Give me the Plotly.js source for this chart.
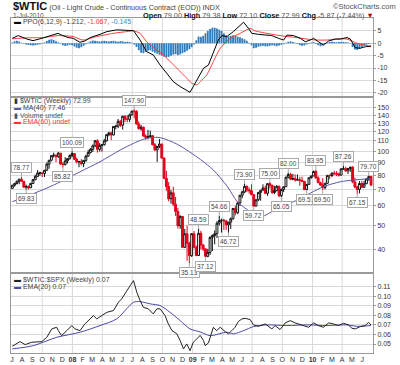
<!DOCTYPE html>
<html><head><meta charset="utf-8">
<script src="https://cdn.plot.ly/plotly-3.0.1.min.js"></script>
<style>html,body{margin:0;padding:0;background:#fff}#chart{width:400px;height:365px}</style>
</head><body><div id="chart"></div>
<script>
// ---- weekly candles (week starting Monday) ----
const firstWeek = '2007-07-02';
const opens = [70.7,72.8,74.0,75.5,77.0,75.5,71.5,72.0,71.1,74.0, 76.7,79.1,81.6,81.7,81.2,83.7,88.6,91.9,95.9,96.3, 95.1,98.2,88.7,88.3,91.3,93.3,96.0,97.9,92.7,90.6, 90.7,89.0,91.8,95.5,98.8,101.8,105.2,110.2,101.8,105.6, 106.2,110.1,116.7,118.5,116.3,126.0,126.3,132.2,127.4,138.5, 134.9,134.6,140.2,145.3,145.1,128.9,123.3,125.1,115.2,113.8, 114.6,115.5,106.2,101.2,104.6,106.9,93.9,77.7,71.9,64.2, 67.8,61.0,57.0,49.9,54.4,40.8,46.3,42.4,37.7,46.3, 40.8,37.8,46.5,41.7,40.2,37.5,38.9,44.8,45.5,46.3, 51.1,52.4,52.5,52.2,50.3,51.6,53.2,58.6,56.3,61.7, 66.3,68.4,72.0,69.6,69.2,66.7,59.9,63.6,68.1,69.5, 70.9,67.5,73.9,72.7,68.0,69.3,72.0,66.0,70.0,71.8, 78.5,80.5,77.0,77.4,76.4,76.7,76.1,75.5,69.9,73.4, 78.1,79.4,82.8,78.0,74.5,72.9,71.2,74.1,79.8,79.7, 81.5,81.2,80.7,80.0,84.9,84.9,83.2,85.1,86.2,75.1, 71.6,70.0,74.0,71.5,73.8,77.2,79.00];
const highs = [73.0,74.5,76.0,77.3,78.77,75.8,73.2,72.5,74.4,77.0, 80.2,83.9,82.6,82.1,84.0,90.0,92.2,96.2,98.6,96.8, 99.3,98.4,90.3,94.6,93.6,97.0,100.09,98.0,94.4,91.4, 92.9,91.9,96.7,101.3,103.0,106.5,111.0,111.8,107.9,106.5, 112.2,117.0,119.9,119.9,126.0,127.8,135.1,133.5,139.1,139.9, 139.9,142.0,145.9,147.90,146.7,132.2,127.8,125.8,117.1,122.0, 121.2,116.2,107.9,105.0,112.0,107.0,94.0,83.3,75.0,69.6, 71.8,65.2,58.9,55.0,54.6,48.4,50.0,43.0,46.4,47.5, 41.5,48.59,47.6,42.0,40.4,40.2,45.2,46.0,47.7,52.0, 54.66,53.3,53.2,52.5,51.7,53.9,58.8,60.1,62.3,66.4, 69.1,73.90,72.6,71.2,73.4,67.0,63.8,68.5,69.7,73.4, 72.6,74.2,75.00,73.2,72.4,72.9,72.6,70.6,71.9,78.6, 82.00,81.8,81.0,80.5,80.5,78.8,78.9,75.7,73.6,78.4, 79.6,83.5,83.95,79.2,75.3,77.8,74.3,79.9,80.5,81.9, 83.2,83.0,82.0,85.0,87.26,86.5,85.4,86.5,87.0,78.3, 72.5,75.7,75.8,76.0,77.7,79.70,79.38];
const lows = [70.3,71.8,73.3,73.5,75.2,71.1,69.83,69.9,70.9,73.9, 76.2,78.5,79.6,78.6,78.6,83.3,84.9,91.0,94.2,90.4, 94.0,87.9,85.82,87.5,89.2,92.4,94.6,92.0,89.2,86.1, 87.6,86.2,90.6,94.9,97.9,99.3,103.9,98.7,99.6,99.6, 105.4,109.4,115.0,110.9,116.0,122.7,124.0,125.4,122.3,131.2, 131.0,131.3,139.5,135.8,128.2,122.5,121.0,114.6,111.3,111.6, 112.8,105.5,100.1,90.5,103.0,93.0,77.0,69.1,62.6,61.3, 59.9,54.7,48.6,48.5,40.5,40.5,36.0,35.13,37.3,40.4, 37.5,37.6,40.0,39.4,37.12,37.2,38.0,39.4,41.9,44.5, 50.0,46.8,48.0,48.0,46.72,48.4,52.9,55.0,55.6,60.0, 64.5,67.6,68.2,67.3,66.2,59.72,59.9,62.7,63.0,69.4, 67.0,65.9,70.6,67.1,67.0,68.7,65.1,65.05,68.3,71.7, 77.6,76.5,76.3,75.3,76.0,72.4,74.9,69.6,69.51,73.0, 77.4,79.2,77.2,74.3,72.4,69.50,70.1,73.8,77.1,78.4, 79.8,79.2,78.9,79.8,84.2,82.4,80.8,82.5,74.2,70.8, 67.15,67.5,70.8,71.0,73.7,75.9,72.10];
const closes = [72.81,73.93,75.57,77.02,75.48,71.47,71.98,71.09,74.04,76.70, 79.10,81.62,81.66,81.22,83.69,88.60,91.86,95.93,96.32,95.10, 98.18,88.71,88.28,91.27,93.31,96.00,97.91,92.69,90.57,90.71, 88.96,91.77,95.50,98.81,101.84,105.15,110.21,101.84,105.62,106.23, 110.14,116.69,118.52,116.32,125.96,126.29,132.19,127.35,138.54,134.86, 134.62,140.21,145.29,145.08,128.88,123.26,125.10,115.20,113.77,114.59, 115.46,106.23,101.18,104.55,106.89,93.88,77.70,71.85,64.15,67.81, 61.04,57.04,49.93,54.43,40.81,46.28,42.36,37.71,46.34,40.83, 37.80,46.47,41.68,40.17,37.51,38.94,44.76,45.52,46.25,51.06, 52.38,52.51,52.24,50.33,51.55,53.20,58.63,56.34,61.67,66.31, 68.44,72.04,69.55,69.16,66.73,59.89,63.56,68.05,69.45,70.93, 67.51,73.89,72.74,68.02,69.29,72.04,66.02,69.95,71.77,78.53, 80.50,77.00,77.43,76.35,76.72,76.05,75.47,69.87,73.36,78.05, 79.36,82.75,78.00,74.54,72.89,71.19,74.13,79.81,79.66,81.50, 81.24,80.68,80.00,84.87,84.92,83.24,85.12,86.15,75.11,71.61, 70.04,73.97,71.51,73.78,77.18,78.86,72.99];

// ---- MA(40) ----
const maDates = ['2007-07-02','2007-10-25','2008-01-24','2008-03-25','2008-05-25','2008-07-25','2008-08-25','2008-09-25','2008-11-16','2009-01-25','2009-03-05','2009-04-17','2009-05-17','2009-06-26','2009-07-26','2009-09-25','2009-11-16','2009-12-26','2010-02-03','2010-03-27','2010-05-05','2010-06-28'];
const maVals = [62.4,71.8,82.5,90.6,101.0,110.5,113.5,113.4,106.5,92.5,83.9,71.8,62.4,56.8,54.2,59.5,63.4,67.7,71.8,75.2,76.4,77.46];

// ---- PPO(6,12,9) ----
const ppoDates = ['2007-07-02','2007-07-20','2007-08-15','2007-09-03','2007-09-30','2007-10-30','2007-11-18','2007-11-29','2007-12-19','2008-01-03','2008-01-24','2008-02-08','2008-02-24','2008-03-25','2008-04-15','2008-05-15','2008-06-09','2008-07-05','2008-07-25','2008-08-14','2008-09-03','2008-09-24','2008-10-14','2008-11-03','2008-11-24','2008-12-09','2008-12-24','2009-01-03','2009-01-14','2009-02-03','2009-02-18','2009-03-05','2009-03-20','2009-03-31','2009-04-15','2009-05-05','2009-05-26','2009-06-05','2009-06-20','2009-06-30','2009-07-20','2009-08-15','2009-08-30','2009-09-19','2009-10-05','2009-10-15','2009-11-04','2009-11-25','2009-12-10','2009-12-25','2010-01-04','2010-01-19','2010-02-03','2010-02-19','2010-03-11','2010-03-26','2010-04-16','2010-04-26','2010-05-11','2010-05-26','2010-06-11','2010-06-28'];
const ppoVals = [2.0,3.1,1.7,1.05,2.0,3.1,4.0,3.3,2.3,2.0,0.4,0.9,2.3,3.6,4.7,5.4,5.4,5.1,1.3,-3.4,-4.7,-8.8,-12.1,-15.5,-17.5,-18.8,-19.8,-17.5,-15.0,-10.1,-8.8,-3.4,1.3,3.1,2.7,4.7,7.4,8.5,6.0,4.0,3.6,3.3,3.1,2.0,1.3,3.3,3.1,2.0,0.6,1.3,2.0,0.6,-0.7,0.9,1.7,1.7,2.3,1.7,-1.8,-2.0,-1.4,-1.212];
const sigDates = ['2007-07-02','2007-08-15','2007-10-04','2007-11-18','2008-01-03','2008-02-02','2008-03-15','2008-05-04','2008-06-14','2008-07-05','2008-07-25','2008-08-14','2008-09-14','2008-10-14','2008-11-14','2008-12-14','2008-12-29','2009-01-14','2009-01-24','2009-02-13','2009-03-05','2009-03-26','2009-04-25','2009-05-26','2009-06-25','2009-07-10','2009-08-15','2009-09-14','2009-10-15','2009-11-14','2009-12-15','2010-01-14','2010-02-14','2010-03-16','2010-04-16','2010-05-16','2010-06-16','2010-06-28'];
const sigVals = [1.8,2.2,2.3,3.1,2.7,1.3,2.7,4.0,4.7,5.0,4.0,0.6,-2.7,-6.0,-10.1,-14.1,-16.1,-16.8,-15.5,-12.8,-7.4,-2.0,2.0,4.0,6.0,5.0,4.0,3.3,2.7,2.3,1.7,1.3,1.3,1.7,1.7,0,-1.0,-1.067];
const histVals = [0.3,0.8,1.0,0.7, 0.2,-0.2,-0.5,-0.7,-0.8,-0.9, -0.8,-0.6,-0.4,-0.2, 0.3,0.9,1.4,1.6,1.3,0.8,0.4, -0.2,-0.8,-1.1,-0.9,-0.6,-0.8, -1.3,-1.8,-2.0,-1.6,-1.0,-0.4, 0.3,0.8,1.1,1.0,0.9,0.7, 0.8,1.0,0.9,0.7,0.9,1.0,0.8,0.6,0.9,0.8,0.5,0.6,0.5,0.2, -0.5,-1.5,-2.8, -3.8,-4.0,-3.5,-3.0,-2.8,-3.4,-3.8,-4.2,-4.6, -5.0,-5.4,-5.6,-5.5,-5.0,-4.6,-4.4,-4.8,-4.5,-4.0,-3.6,-3.0, -2.4,-1.6, -0.5,1.2,2.7,2.6,3.0,4.0,5.0,5.8,6.3, 6.3,6.0,5.5,5.0,4.0,3.2,2.8,3.0,3.2,3.0,2.7,2.4, 2.0,1.6,1.0,0.2,-0.8, -2.0,-1.8,-1.4,-1.2,-1.0,-1.2,-1.3,-1.0,-0.8,-1.0,-1.2,-0.9, -0.6,-0.4,0.2, 0.6,0.8,0.5,0.2,-0.3,-0.8, -1.0,-0.9,-0.5,-0.2,0.3, 0.5,-0.3,-0.8,-1.2,-0.9,-0.4, 0.2,0.5,0.6,0.5,0.4,0.5,0.6,0.5,0.4,0.3,0.1, -1.5,-2.5,-2.7,-2.3,-1.6, -1.0,-0.6,-0.3,-0.145];

// ---- $WTIC:$SPX ratio and EMA(20) ----
const ratioDates = ['2007-07-02','2007-07-25','2007-08-10','2007-08-30','2007-09-30','2007-10-15','2007-10-30','2007-11-14','2007-11-19','2007-11-29','2007-12-15','2007-12-30','2008-01-09','2008-01-24','2008-02-08','2008-02-24','2008-03-05','2008-03-15','2008-03-30','2008-04-15','2008-05-05','2008-05-20','2008-05-30','2008-06-14','2008-06-25','2008-07-05','2008-07-15','2008-07-25','2008-08-04','2008-08-19','2008-09-03','2008-09-14','2008-09-24','2008-10-09','2008-10-19','2008-10-30','2008-11-14','2008-11-24','2008-12-04','2008-12-14','2008-12-24','2009-01-03','2009-01-14','2009-01-24','2009-02-03','2009-02-08','2009-02-18','2009-02-28','2009-03-05','2009-03-15','2009-03-26','2009-04-10','2009-04-20','2009-04-30','2009-05-10','2009-05-20','2009-05-31','2009-06-10','2009-06-25','2009-07-05','2009-07-20','2009-08-10','2009-08-20','2009-08-30','2009-09-09','2009-09-24','2009-10-10','2009-10-25','2009-11-09','2009-11-25','2009-12-10','2009-12-20','2010-01-04','2010-01-19','2010-02-03','2010-02-19','2010-03-06','2010-03-21','2010-04-05','2010-04-20','2010-05-01','2010-05-11','2010-05-26','2010-06-11','2010-06-20','2010-06-28'];
const ratioVals = [0.0476,0.0525,0.0494,0.0518,0.0525,0.0570,0.0658,0.0675,0.0640,0.0588,0.0640,0.0693, 0.0658,0.0640,0.0710,0.0763,0.0797,0.0763,0.0797,0.0832,0.0850,0.0937,0.0972,0.1059,0.1112,0.1164,0.1041,0.0954,0.0884,0.0868,0.0815,0.0868,0.0868,0.0797,0.0710,0.0640,0.0606,0.0536,0.0449,0.0501,0.0431, 0.0518,0.0553,0.0590,0.0536,0.0483,0.0511,0.0606,0.0675,0.0640,0.0675,0.0630,0.0606,0.0640,0.0675,0.0735,0.0763,0.0769,0.0756,0.0700,0.0685,0.0710,0.0685,0.0658,0.0693,0.0651,0.0721,0.0745,0.0721,0.0700,0.0685,0.0675, 0.0721,0.0693,0.0675,0.0721,0.0710,0.0693,0.0717,0.0700,0.0665,0.0658,0.0682,0.0693,0.0727,0.0700];
const emaDates = ['2007-07-02','2007-09-04','2007-11-14','2008-01-24','2008-03-25','2008-05-15','2008-06-14','2008-07-05','2008-07-25','2008-08-25','2008-09-24','2008-10-24','2008-11-24','2008-12-24','2009-01-24','2009-02-23','2009-04-15','2009-05-05','2009-06-05','2009-07-05','2009-08-15','2009-10-15','2009-12-15','2010-02-14','2010-04-16','2010-05-16','2010-06-28'];
const emaVals = [0.0449,0.0483,0.057,0.0623,0.0693,0.0763,0.0868,0.0937,0.0944,0.092,0.0902,0.0832,0.0745,0.0658,0.0627,0.0588,0.0623,0.0606,0.064,0.0682,0.070,0.0693,0.070,0.0693,0.070,0.0685,0.0693];

// ---- high / low price labels ----
const labelDates = ['2007-07-30','2007-08-13','2007-12-03','2007-12-31','2008-07-07','2008-12-22','2009-01-19','2009-02-09','2009-03-23','2009-04-20','2009-06-08','2009-07-06','2009-08-24','2009-09-28','2009-10-19','2009-12-14','2010-01-11','2010-02-01','2010-04-05','2010-05-17','2010-06-21'];
const labelVals = [78.77,69.83,85.82,100.09,147.90,35.13,48.59,37.12,54.66,46.72,73.90,59.72,75.00,65.05,82.00,69.51,83.95,69.50,87.26,67.15,79.70];
const labelSide = ['H','L','L','H','H','L','H','L','H','L','H','L','H','L','H','L','H','L','H','L','H'];

// ---- axes ticks ----
const priceTicks = [40,50,60,70,80,90,100,110,120,130,140,150];
const ppoTicks = [5,0,-5,-10,-15,-20];
const ratioTicks = [0.05,0.06,0.07,0.08,0.09,0.10,0.11];
const monthLetters = ['J','F','M','A','M','J','J','A','S','O','N','D'];

// ---- header texts ----
const symbol = '$WTIC';
const fullName = '(Oil - Light Crude - Continuous Contract (EOD)) INDX';
const quoteDate = '1-Jul-2010';
const quote = {Open:'79.00', High:'79.38', Low:'72.10', Close:'72.99', Chg:'-5.87 (-7.44%)'};

// build weekly dates
const weeks = [];
{ const t0 = Date.parse(firstWeek + 'T00:00:00Z');
  for (let i = 0; i < closes.length; i++) weeks.push(new Date(t0 + i*7*86400000).toISOString().slice(0,10)); }

// month ticks Jul 2007 .. Jun 2010
const tickVals = [], tickText = [], gridDates = [];
for (let k = 0; k < 36; k++) {
  const m = (6 + k) % 12, y = 2007 + Math.floor((6 + k) / 12);
  const d = y + '-' + String(m + 1).padStart(2, '0') + '-01';
  tickVals.push(d);
  tickText.push(m === 0 ? '<b>' + String(y).slice(2) + '</b>' : monthLetters[m]);
  if (m % 3 === 0 && k > 0) gridDates.push(d);
}

const GRID = '#d9d9d9', AX = '#9a9a9a';
const traces = [
  {type:'bar', x:weeks, y:histVals, xaxis:'x', yaxis:'y', marker:{color:'#2f7dbf', line:{width:0}}, hoverinfo:'skip'},
  {type:'scatter', mode:'lines', x:sigDates, y:sigVals, xaxis:'x', yaxis:'y', line:{color:'#ff3b3b', width:1, shape:'spline', smoothing:0.6}},
  {type:'scatter', mode:'lines', x:ppoDates, y:ppoVals, xaxis:'x', yaxis:'y', line:{color:'#000', width:1}},
  {type:'scatter', mode:'lines', x:maDates, y:maVals, xaxis:'x', yaxis:'y2', line:{color:'#5a5aa8', width:1, shape:'spline', smoothing:0.8}},
  {type:'candlestick', x:weeks, open:opens, high:highs, low:lows, close:closes, xaxis:'x', yaxis:'y2',
   increasing:{line:{color:'#111', width:1}, fillcolor:'#ffffff'},
   decreasing:{line:{color:'#e3001b', width:1}, fillcolor:'#e3001b'}, whiskerwidth:0},
  {type:'scatter', mode:'lines', x:emaDates, y:emaVals, xaxis:'x', yaxis:'y3', line:{color:'#4a4aa8', width:1, shape:'spline', smoothing:0.8}},
  {type:'scatter', mode:'lines', x:ratioDates, y:ratioVals, xaxis:'x', yaxis:'y3', line:{color:'#222', width:1}}
];

const pX = v => (v - 11) / 362;          // pixel -> paper x
const pY = v => 1 - (v - 18) / 335;      // pixel -> paper y
const ann = [];
function txt(x, y, text, size, color, anchor) {
  ann.push({xref:'paper', yref:'paper', x:pX(x), y:pY(y), text:text, showarrow:false,
    xanchor:anchor || 'left', yanchor:'middle', font:{size:size, color:color}});
}
txt(11, 6.5, '<span style="font-size:11px;font-weight:bold;color:#111">' + symbol + '</span> ' + fullName, 7.2, '#444');
txt(398, 6.5, '©StockCharts.com', 7.5, '#555', 'right');
txt(11, 15.5, quoteDate, 6.5, '#555');
let q = '';
for (const k of Object.keys(quote)) q += '<b>' + k + '</b> <span style="color:#555">' + quote[k] + '</span> ';
txt(376, 15.5, q + '<span style="color:#c00000">▼</span>', 7.3, '#111', 'right');
txt(12, 22, '<span style="color:#000">▬</span> PPO(6,12,9) -1.212, <span style="color:#ff3030">-1.067,</span> <span style="color:#3a87c6">-0.145</span>', 7, '#444');
txt(12, 101.5, '<span style="color:#333">▮</span> $WTIC (Weekly) 72.99', 7, '#444');
txt(12, 108.5, '<span style="color:#5a5aa8">▬</span> MA(40) 77.46', 7, '#444');
txt(12, 115.3, '<span style="color:#555">▮</span> Volume undef', 7, '#555');
txt(12, 122.2, '<span style="color:#ff3030">▬</span> EMA(60) undef', 7, '#ff3030');
txt(12, 280, '<span style="color:#222">▬</span> $WTIC:$SPX (Weekly) 0.07', 7, '#444');
txt(12, 287, '<span style="color:#4a4aa8">▬</span> EMA(20) 0.07', 7, '#444');

labelDates.forEach((d, i) => {
  ann.push({xref:'x', yref:'y2', x:d, y:Math.log10(labelVals[i]), text:labelVals[i].toFixed(2),
    showarrow:true, arrowhead:0, arrowwidth:1, arrowcolor:'#aaa', ax:0, ay:labelSide[i] === 'H' ? -9 : 9,
    bordercolor:'#aaa', borderwidth:1, borderpad:1, bgcolor:'#fff', font:{size:6.5, color:'#444'}});
});

const shapes = gridDates.map(d => ({type:'line', xref:'x', yref:'paper', x0:d, x1:d, y0:0, y1:1,
  line:{color:GRID, width:1}, layer:'below'}));

const yCommon = {side:'right', showgrid:true, gridcolor:GRID, zeroline:false, showline:true, mirror:true,
  linecolor:AX, linewidth:1, ticks:'outside', ticklen:2, tickcolor:AX, tickfont:{size:7, color:'#333'}, fixedrange:true};

const layout = {
  width:400, height:365, margin:{l:11, r:27, t:18, b:12},
  paper_bgcolor:'#fff', plot_bgcolor:'#fff', showlegend:false, bargap:0.2,
  boxgap:0.15, boxgroupgap:0.05,
  font:{family:'"Liberation Sans", Arial, sans-serif', size:7, color:'#333'},
  xaxis:{type:'date', range:['2007-06-28','2010-07-04'], anchor:'y3', domain:[0,1],
    tickmode:'array', tickvals:tickVals, ticktext:tickText, showgrid:false, showline:true, mirror:'all',
    linecolor:AX, linewidth:1, ticks:'', tickfont:{size:7, color:'#333'}, rangeslider:{visible:false}, fixedrange:true},
  yaxis:Object.assign({}, yCommon, {domain:[0.7642, 1], range:[-21.7, 10.2], tickmode:'array',
    tickvals:ppoTicks, ticktext:ppoTicks.map(String)}),
  yaxis2:Object.assign({}, yCommon, {domain:[0.2388, 0.7642], type:'log', range:[Math.log10(32.1), Math.log10(165.8)],
    tickmode:'array', tickvals:priceTicks, ticktext:priceTicks.map(String)}),
  yaxis3:Object.assign({}, yCommon, {domain:[0, 0.2388], range:[0.0406, 0.1243], tickmode:'array',
    tickvals:ratioTicks, ticktext:ratioTicks.map(v => v.toFixed(2))}),
  annotations:ann, shapes:shapes
};
Plotly.newPlot('chart', traces, layout, {staticPlot:true, displayModeBar:false});
</script></body></html>
